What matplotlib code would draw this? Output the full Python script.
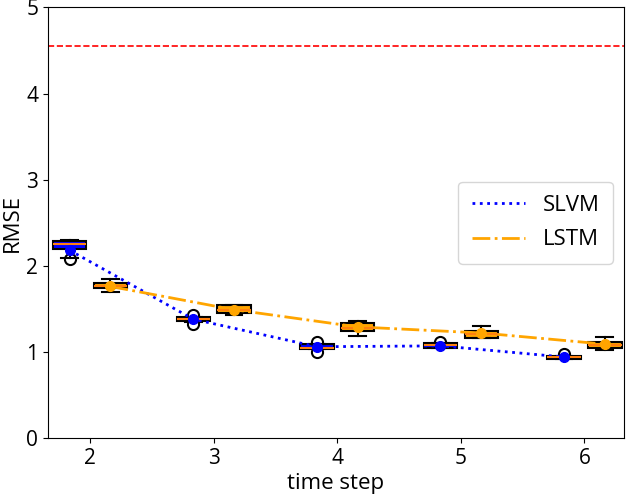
import numpy as np
import matplotlib
matplotlib.use("Agg")
import matplotlib.pyplot as plt

plt.rcParams['font.family'] = ['Open Sans', 'DejaVu Sans']

# time steps and box positions (two models side by side)
steps = [2, 3, 4, 5, 6]
offset = 0.165

# SLVM box statistics
slvm_whislo = [2.09, 1.35, 1.03, 1.04, 0.92]
slvm_q1 = [2.19, 1.36, 1.03, 1.04, 0.92]
slvm_med = [2.25, 1.38, 1.05, 1.075, 0.935]
slvm_q3 = [2.29, 1.40, 1.09, 1.10, 0.95]
slvm_whishi = [2.30, 1.41, 1.09, 1.10, 0.95]
slvm_mean = [2.18, 1.38, 1.06, 1.07, 0.94]
slvm_fliers = [[2.08], [1.43, 1.32], [1.12, 1.00], [1.12], [0.98]]

# LSTM box statistics
lstm_whislo = [1.70, 1.43, 1.19, 1.165, 1.02]
lstm_q1 = [1.74, 1.455, 1.245, 1.165, 1.05]
lstm_med = [1.77, 1.49, 1.28, 1.21, 1.08]
lstm_q3 = [1.795, 1.54, 1.33, 1.24, 1.11]
lstm_whishi = [1.845, 1.55, 1.36, 1.30, 1.175]
lstm_mean = [1.76, 1.49, 1.29, 1.22, 1.09]
lstm_fliers = [[], [], [], [], []]

baseline = 4.55


def make_stats(lo, q1, med, q3, hi, mean, fl):
    return [dict(whislo=a, q1=b, med=c, q3=d, whishi=e, mean=m, fliers=f)
            for a, b, c, d, e, m, f in zip(lo, q1, med, q3, hi, mean, fl)]


fig = plt.figure(figsize=(6.27, 4.98), dpi=100)
ax = fig.add_axes([0.0766, 0.1205, 0.9186, 0.8645])

pos_slvm = [s - offset for s in steps]
pos_lstm = [s + offset for s in steps]

common = dict(widths=0.27, patch_artist=True, showmeans=True, manage_ticks=False,
              whiskerprops=dict(color='black', lw=1.5),
              capprops=dict(color='black', lw=1.5),
              medianprops=dict(color='#ff7f0e', lw=1.5),
              flierprops=dict(marker='o', markerfacecolor='none', markeredgecolor='black',
                              markersize=8, markeredgewidth=1.5))

ax.bxp(make_stats(slvm_whislo, slvm_q1, slvm_med, slvm_q3, slvm_whishi, slvm_mean, slvm_fliers),
       positions=pos_slvm,
       boxprops=dict(facecolor='blue', edgecolor='black', lw=1.5),
       meanprops=dict(marker='o', markerfacecolor='blue', markeredgecolor='blue', markersize=7),
       **common)
ax.bxp(make_stats(lstm_whislo, lstm_q1, lstm_med, lstm_q3, lstm_whishi, lstm_mean, lstm_fliers),
       positions=pos_lstm,
       boxprops=dict(facecolor='orange', edgecolor='black', lw=1.5),
       meanprops=dict(marker='o', markerfacecolor='orange', markeredgecolor='orange', markersize=7),
       **common)

ax.plot(pos_slvm, slvm_mean, color='blue', ls=':', lw=2, label='SLVM')
ax.plot(pos_lstm, lstm_mean, color='orange', ls='-.', lw=2, label='LSTM')
ax.axhline(baseline, color='red', ls='--', lw=1.2)

ax.set_xlim(1.66, 6.32)
ax.set_ylim(0, 5)
ax.set_xticks(steps)
ax.set_yticks([0, 1, 2, 3, 4, 5])
ax.tick_params(labelsize=15)
ax.set_xlabel('time step', fontsize=16, labelpad=3)
ax.set_ylabel('RMSE', fontsize=16)
ax.yaxis.set_label_coords(-0.044, 0.5)
ax.legend(loc='center right', fontsize=16, handlelength=2.4, borderpad=0.6,
          labelspacing=0.6, bbox_to_anchor=(1.0, 0.50))

fig.savefig('out.png', dpi=100)
